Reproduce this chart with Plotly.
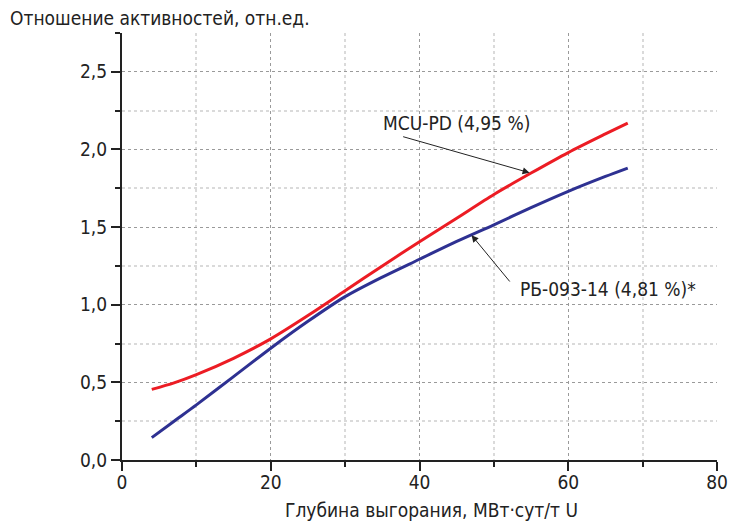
import plotly.graph_objects as go

# Burnup grid (MW·day/t U) and activity ratios for the two calculations
burnup = [4, 7, 10, 15, 20, 25, 30, 35, 40, 45, 50, 55, 60, 65, 68]
ratio_mcu = [0.455, 0.497, 0.55, 0.655, 0.78, 0.93, 1.09, 1.25, 1.405, 1.557, 1.71, 1.848, 1.98, 2.10, 2.17]
ratio_rb = [0.144, 0.25, 0.355, 0.537, 0.72, 0.893, 1.052, 1.178, 1.293, 1.408, 1.515, 1.625, 1.73, 1.826, 1.88]

label_mcu = "MCU-PD (4,95 %)"
label_rb = "РБ-093-14 (4,81 %)*"
x_title = "Глубина выгорания, МВт·сут/т U"
y_title = "Отношение активностей, отн.ед."

FONT = "Liberation Sans Narrow, DejaVu Sans Condensed, Arial Narrow, sans-serif"
RED = "#ec1c24"
BLUE = "#2e3192"

fig = go.Figure()
fig.add_trace(go.Scatter(x=burnup, y=ratio_mcu, mode="lines",
                         line=dict(color=RED, width=3, shape="spline", smoothing=0.8),
                         showlegend=False, hoverinfo="skip"))
fig.add_trace(go.Scatter(x=burnup, y=ratio_rb, mode="lines",
                         line=dict(color=BLUE, width=3, shape="spline", smoothing=0.8),
                         showlegend=False, hoverinfo="skip"))

axis_common = dict(
    showline=True, linecolor="#222", linewidth=2,
    ticks="outside", ticklen=9, tickwidth=2, tickcolor="#222",
    showgrid=True, gridcolor="#9a9a9a", gridwidth=1, griddash="dot",
    zeroline=False, automargin=False,
    tickfont=dict(family=FONT, size=19, color="#222"),
)

fig.update_xaxes(range=[0, 80], dtick=20, tick0=0, ticklabelstandoff=-5,
                 minor=dict(dtick=10, showgrid=True, gridcolor="#dadada", gridwidth=2,
                            ticks="outside", ticklen=5, tickwidth=2, tickcolor="#222"),
                 **axis_common)
fig.update_yaxes(range=[0, 2.75], dtick=0.5, tick0=0, tickformat=".1f",
                 minor=dict(dtick=0.25, showgrid=True, gridcolor="#dadada", gridwidth=2,
                            ticks="outside", ticklen=5, tickwidth=2, tickcolor="#222"),
                 **axis_common)

annot_font = dict(family=FONT, size=19, color="#222")

# Series labels
fig.add_annotation(x=34.8, y=2.17, text=label_mcu, showarrow=False,
                   xanchor="left", yanchor="middle", font=annot_font)
fig.add_annotation(x=53.3, y=1.1, text=label_rb, showarrow=False,
                   xanchor="left", yanchor="middle", font=annot_font)

# Leader arrows from labels to the curves
fig.add_annotation(x=54.8, y=1.85, ax=37.6, ay=2.085, axref="x", ayref="y",
                   text="", showarrow=True, arrowhead=2, arrowsize=1.4,
                   arrowwidth=1, arrowcolor="#222", standoff=0, startstandoff=0)
fig.add_annotation(x=47.0, y=1.448, ax=52.3, ay=1.14, axref="x", ayref="y",
                   text="", showarrow=True, arrowhead=2, arrowsize=1.4,
                   arrowwidth=1, arrowcolor="#222", standoff=0, startstandoff=0)

# Axis titles
fig.add_annotation(xref="paper", yref="paper", x=(431 - 122) / 595, y=-(510 - 460) / 427,
                   text=x_title, showarrow=False, xanchor="center", yanchor="middle",
                   font=annot_font)
fig.add_annotation(xref="paper", yref="paper", x=(8 - 122) / 595, y=(460 - 18) / 427,
                   text=y_title, showarrow=False, xanchor="left", yanchor="middle",
                   font=annot_font)

fig.update_layout(
    width=729, height=523,
    margin=dict(l=122, r=12, t=33, b=63),
    paper_bgcolor="white", plot_bgcolor="white",
    separators=", ",
    font=dict(family=FONT, color="#222"),
)

fig.write_html("out.html")
